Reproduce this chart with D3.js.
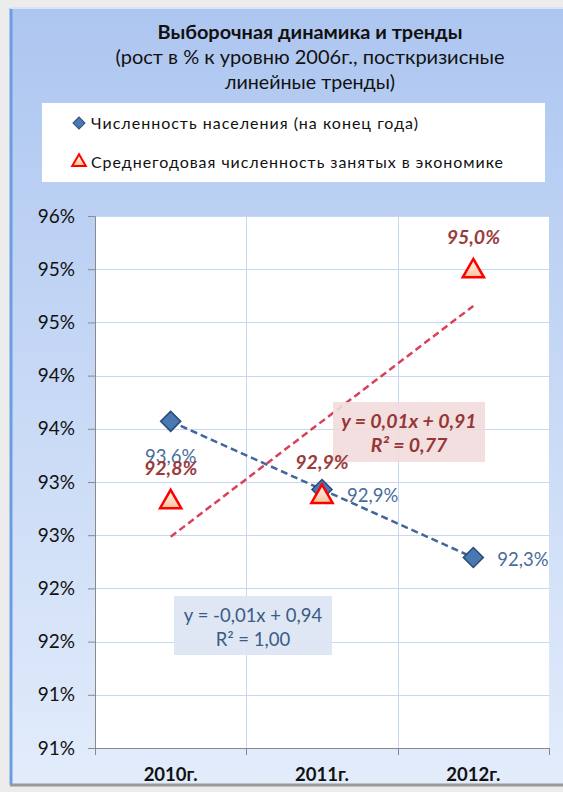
<!DOCTYPE html>
<html>
<head>
<meta charset="utf-8">
<script src="https://cdn.jsdelivr.net/npm/d3@7"></script>
<style>
  html, body { margin: 0; padding: 0; background: #ececec; }
  svg { display: block; }
  text { font-family: Lato, "Open Sans", sans-serif; }
</style>
</head>
<body>
<div id="chart"></div>
<script>
const width = 563
const height = 792

// data
const years = ["2010г.", "2011г.", "2012г."]
const population = [94.07, 93.43, 92.79]
const populationLabels = ["93,6%", "92,9%", "92,3%"]
const employment = [93.33, 93.38, 95.5]
const employmentLabels = ["92,8%", "92,9%", "95,0%"]
const yTicks = [91, 91.5, 92, 92.5, 93, 93.5, 94, 94.5, 95, 95.5, 96]
const yTickLabels = ["91%", "91%", "92%", "92%", "93%", "93%", "94%", "94%", "95%", "95%", "96%"]
const titleLines = ["Выборочная динамика и тренды", "(рост  в % к уровню 2006г., посткризисные", "линейные тренды)"]
const legendNames = ["Численность населения (на конец года)", "Среднегодовая численность занятых в экономике"]
const popEquation = ["y = -0,01x + 0,94", "R² = 1,00"]
const empEquation = ["y = 0,01x + 0,91", "R² = 0,77"]

const plot = { left: 95, right: 549, top: 216, bottom: 748 }

const svg = d3.select("#chart").append("svg")
    .attr("width", width)
    .attr("height", height)

const defs = svg.append("defs")
const bg = defs.append("linearGradient").attr("id", "bg").attr("x1", 0).attr("y1", 0).attr("x2", 0).attr("y2", 1)
bg.append("stop").attr("offset", "0%").attr("stop-color", "#adc6f0")
bg.append("stop").attr("offset", "100%").attr("stop-color", "#e2ecfb")
const tri = defs.append("linearGradient").attr("id", "tri").attr("x1", 0).attr("y1", 0).attr("x2", 0).attr("y2", 1)
tri.append("stop").attr("offset", "0%").attr("stop-color", "#fffaf5")
tri.append("stop").attr("offset", "100%").attr("stop-color", "#f9c39a")

//  FRAME  ////////////////////////////////////////////////
svg.append("rect").attr("width", width).attr("height", height).attr("fill", "#ececec")
svg.append("rect")
    .attr("x", 10).attr("y", 7).attr("width", width - 10).attr("height", 778)
    .attr("fill", "url(#bg)")
svg.append("line").attr("x1", 11).attr("x2", 11).attr("y1", 8).attr("y2", 785)
    .attr("stroke", "#6c9de3").attr("stroke-width", 3)
svg.append("line").attr("x1", 10).attr("x2", width).attr("y1", 8).attr("y2", 8)
    .attr("stroke", "#d6e3f8").attr("stroke-width", 2)
svg.append("line").attr("x1", 10).attr("x2", width).attr("y1", 785).attr("y2", 785)
    .attr("stroke", "#9a9a9a").attr("stroke-width", 3)

//  TITLE  ////////////////////////////////////////////////
const titleWidths = [305, 389, 170]
svg.append("g").selectAll("text")
    .data(titleLines)
    .join("text")
    .attr("x", 310)
    .attr("y", (d, i) => 39 + i * 25)
    .attr("text-anchor", "middle")
    .attr("font-size", 19)
    .attr("font-weight", (d, i) => i == 0 ? "bold" : "normal")
    .attr("fill", "#111")
    .attr("textLength", (d, i) => titleWidths[i])
    .attr("lengthAdjust", "spacingAndGlyphs")
    .text(d => d)

//  LEGEND  ///////////////////////////////////////////////
svg.append("rect")
    .attr("x", 42).attr("y", 103).attr("width", 503).attr("height", 79)
    .attr("fill", "#fff")
const legend = svg.append("g")
legend.append("path")
    .attr("d", d3.symbol(d3.symbolSquare, 72)())
    .attr("transform", "translate(79,123) rotate(45)")
    .attr("fill", "#4a78b2").attr("stroke", "#2d4f7a").attr("stroke-width", 1)
legend.append("path")
    .attr("d", d3.symbol(d3.symbolTriangle, 80)())
    .attr("transform", "translate(79,162)")
    .attr("fill", "url(#tri)").attr("stroke", "#ff0000").attr("stroke-width", 2)
legend.selectAll("text")
    .data(legendNames)
    .join("text")
    .attr("x", 91)
    .attr("y", (d, i) => 129 + i * 39)
    .attr("font-size", 16)
    .attr("fill", "#111")
    .attr("textLength", (d, i) => i == 0 ? 327 : 412)
    .attr("lengthAdjust", "spacing")
    .text(d => d)

//  SCALES  ///////////////////////////////////////////////
const x = d3.scaleBand().domain(years).range([plot.left, plot.right]).padding(0)
const cx = d => x(d) + x.bandwidth() / 2
const y = d3.scaleLinear().domain([91, 96]).range([plot.bottom, plot.top])

svg.append("rect")
    .attr("x", plot.left).attr("y", plot.top)
    .attr("width", plot.right - plot.left).attr("height", plot.bottom - plot.top)
    .attr("fill", "#fff")

// grid
svg.append("g").selectAll("line")
    .data(yTicks.slice(1))
    .join("line")
    .attr("x1", plot.left).attr("x2", plot.right)
    .attr("y1", d => Math.round(y(d)) + 0.5).attr("y2", d => Math.round(y(d)) + 0.5)
    .attr("stroke", "#c8d8f0").attr("stroke-width", 1)
svg.append("g").selectAll("line")
    .data(years.slice(1))
    .join("line")
    .attr("x1", d => Math.round(x(d)) + 0.5).attr("x2", d => Math.round(x(d)) + 0.5)
    .attr("y1", plot.top).attr("y2", plot.bottom)
    .attr("stroke", "#c8d8f0").attr("stroke-width", 1)

// axes
const yAxis = d3.axisLeft(y).tickValues(yTicks).tickSize(7).tickPadding(13)
    .tickFormat((d, i) => yTickLabels[i])
const gy = svg.append("g").attr("transform", `translate(${plot.left},0)`).call(yAxis)
gy.select(".domain").attr("stroke", "#8a8a8a")
gy.selectAll(".tick line").attr("stroke", "#8a8a8a")
gy.selectAll(".tick text").attr("font-size", 19).attr("fill", "#111")
    .attr("font-family", "Lato, sans-serif")

const xAxis = d3.axisBottom(x).tickSize(0).tickPadding(20)
const gx = svg.append("g").attr("transform", `translate(0,${plot.bottom})`).call(xAxis)
gx.select(".domain").attr("stroke", "#8a8a8a")
gx.selectAll(".tick text").attr("font-size", 18.5).attr("font-weight", "bold").attr("fill", "#111")
    .attr("font-family", "Lato, sans-serif")
svg.append("g").selectAll("line")
    .data([...years.map(d => x(d)), plot.right])
    .join("line")
    .attr("x1", d => Math.round(d) + 0.5).attr("x2", d => Math.round(d) + 0.5)
    .attr("y1", plot.bottom).attr("y2", plot.bottom + 7)
    .attr("stroke", "#8a8a8a")

//  TRENDS  ///////////////////////////////////////////////
function linearTrend(values) {
    const n = values.length
    const xs = values.map((v, i) => i)
    const mx = d3.mean(xs), my = d3.mean(values)
    const slope = d3.sum(xs, (xi, i) => (xi - mx) * (values[i] - my)) / d3.sum(xs, xi => (xi - mx) ** 2)
    return [0, n - 1].map(i => ({ i, v: my + slope * (i - mx) }))
}
const trendLine = d3.line().x(d => cx(years[d.i])).y(d => y(d.v))

svg.append("path")
    .datum(linearTrend(population))
    .attr("d", trendLine)
    .attr("fill", "none").attr("stroke", "#43669a").attr("stroke-width", 2.5)
    .attr("stroke-dasharray", "7,4")
svg.append("path")
    .datum(linearTrend(employment))
    .attr("d", trendLine)
    .attr("fill", "none").attr("stroke", "#d94059").attr("stroke-width", 2.5)
    .attr("stroke-dasharray", "7,4")

//  EQUATION BOXES  ///////////////////////////////////////
function equationBox(lines, bx, by, bw, bh, fill, color, italicBold) {
    const g = svg.append("g")
    g.append("rect").attr("x", bx).attr("y", by).attr("width", bw).attr("height", bh)
        .attr("fill", fill)
    g.selectAll("text")
        .data(lines)
        .join("text")
        .attr("x", bx + bw / 2)
        .attr("y", (d, i) => by + 26 + i * 24)
        .attr("text-anchor", "middle")
        .attr("font-size", italicBold ? 19.5 : 18.5)
        .attr("font-weight", italicBold ? "bold" : "normal")
        .attr("font-style", italicBold ? "italic" : "normal")
        .attr("fill", color)
        .text(d => d)
}
equationBox(empEquation, 333, 402, 152, 60, "rgba(242,220,219,0.9)", "#953735", true)
equationBox(popEquation, 174, 596, 158, 59, "rgba(220,230,242,0.95)", "#3b5b87", false)

//  MARKERS  //////////////////////////////////////////////
svg.append("g").selectAll("path")
    .data(population)
    .join("path")
    .attr("d", d3.symbol(d3.symbolSquare, 200)())
    .attr("transform", (d, i) => `translate(${cx(years[i])},${y(d)}) rotate(45)`)
    .attr("fill", "#4a78b2").attr("stroke", "#2a4a74").attr("stroke-width", 1.5)
svg.append("g").selectAll("path")
    .data(employment)
    .join("path")
    .attr("d", d3.symbol(d3.symbolTriangle, 195)())
    .attr("transform", (d, i) => `translate(${cx(years[i])},${y(d) + 2})`)
    .attr("fill", "url(#tri)").attr("stroke", "#ff0000").attr("stroke-width", 2.5)

//  DATA LABELS  //////////////////////////////////////////
const popLabelPos = [{ dx: 0, dy: 42, anchor: "middle" }, { dx: 25, dy: 13, anchor: "start" }, { dx: 24, dy: 8, anchor: "start" }]
const empLabelPos = [{ dx: 0, dy: -25 }, { dx: 0, dy: -26 }, { dx: 0, dy: -25 }]

svg.append("g").selectAll("text")
    .data(population)
    .join("text")
    .attr("x", (d, i) => cx(years[i]) + popLabelPos[i].dx)
    .attr("y", (d, i) => y(d) + popLabelPos[i].dy)
    .attr("text-anchor", (d, i) => popLabelPos[i].anchor)
    .attr("font-size", 18.5)
    .attr("fill", "#4a6c9c")
    .text((d, i) => populationLabels[i])
svg.append("g").selectAll("text")
    .data(employment)
    .join("text")
    .attr("x", (d, i) => cx(years[i]) + empLabelPos[i].dx)
    .attr("y", (d, i) => y(d) + empLabelPos[i].dy)
    .attr("text-anchor", "middle")
    .attr("font-size", 19.5)
    .attr("font-weight", "bold")
    .attr("font-style", "italic")
    .attr("fill", "#9b3b3b")
    .text((d, i) => employmentLabels[i])
</script>
</body>
</html>
